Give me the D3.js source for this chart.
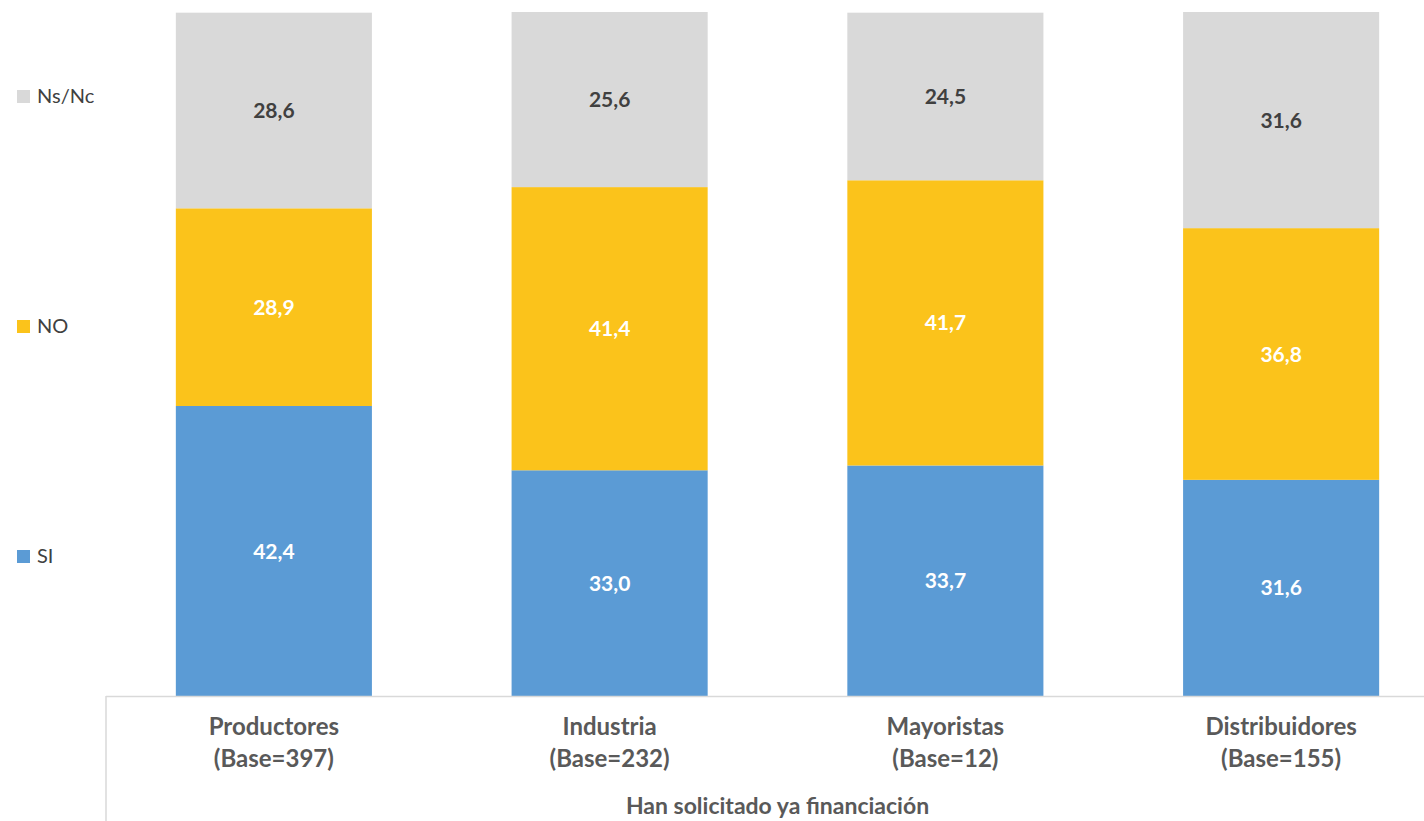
<!DOCTYPE html>
<html>
<head>
<meta charset="utf-8">
<script src="https://cdn.jsdelivr.net/npm/d3@7"></script>
<style>
  html, body { margin: 0; padding: 0; background: #fff; }
  svg { display: block; font-family: Lato, "Open Sans", sans-serif; }
</style>
</head>
<body>
<svg id="chart" width="1424" height="821"></svg>
<script>
const categories = ["Productores", "Industria", "Mayoristas", "Distribuidores"];
const bases = ["(Base=397)", "(Base=232)", "(Base=12)", "(Base=155)"];
const seriesNames = ["SI", "NO", "Ns/Nc"];
const siValues = [42.4, 33.0, 33.7, 31.6];
const noValues = [28.9, 41.4, 41.7, 36.8];
const nsncValues = [28.6, 25.6, 24.5, 31.6];
const colors = ["#5B9BD5", "#FBC31B", "#D9D9D9"];
const labelColors = ["#ffffff", "#ffffff", "#404040"];
const axisTitle = "Han solicitado ya financiación";

const svg = d3.select("#chart");
const W = 1424, H = 821;
const plotLeft = 106, plotRight = 1449, plotTop = 12, plotBottom = 696;

const x = d3.scaleBand().domain(categories).range([plotLeft, plotRight])
  .paddingInner(0.416).paddingOuter(0.208);
const y = d3.scaleLinear().domain([0, 100]).range([plotBottom, plotTop]);

const rows = categories.map((c, i) => ({ cat: c, SI: siValues[i], NO: noValues[i], "Ns/Nc": nsncValues[i] }));
const stacked = d3.stack().keys(seriesNames)(rows);

const g = svg.append("g");
stacked.forEach((s, si) => {
  g.selectAll(null).data(s).enter().append("rect")
    .attr("x", d => x(d.data.cat))
    .attr("width", x.bandwidth())
    .attr("y", d => y(d[1]))
    .attr("height", d => y(d[0]) - y(d[1]))
    .attr("fill", colors[si]);
  g.selectAll(null).data(s).enter().append("text")
    .attr("x", d => x(d.data.cat) + x.bandwidth() / 2)
    .attr("y", d => (y(d[0]) + y(d[1])) / 2)
    .attr("dy", "0.36em")
    .attr("text-anchor", "middle")
    .attr("font-size", 21)
    .attr("font-weight", "bold")
    .attr("fill", labelColors[si])
    .text(d => d3.format(".1f")(d[1] - d[0]).replace(".", ","));
});

// axis lines
svg.append("line").attr("x1", plotLeft).attr("x2", W).attr("y1", plotBottom + 0.5).attr("y2", plotBottom + 0.5)
  .attr("stroke", "#d9d9d9").attr("stroke-width", 1.5);
svg.append("line").attr("x1", plotLeft).attr("x2", plotLeft).attr("y1", plotBottom).attr("y2", H)
  .attr("stroke", "#d9d9d9").attr("stroke-width", 1.5);

// category labels
categories.forEach((c, i) => {
  const cx = x(c) + x.bandwidth() / 2;
  const t = svg.append("text").attr("text-anchor", "middle").attr("font-size", 24)
    .attr("font-weight", "bold").attr("fill", "#595959");
  t.append("tspan").attr("x", cx).attr("y", 735).text(c);
  t.append("tspan").attr("x", cx).attr("y", 767).text(bases[i]);
});

svg.append("text").attr("x", (plotLeft + plotRight) / 2).attr("y", 814)
  .attr("text-anchor", "middle").attr("font-size", 23).attr("font-weight", "bold")
  .attr("fill", "#595959").text(axisTitle);

// legend
const legendY = { "Ns/Nc": 96, "NO": 326, "SI": 556 };
seriesNames.forEach((n, i) => {
  const ly = legendY[n];
  svg.append("rect").attr("x", 17).attr("y", ly - 6).attr("width", 13).attr("height", 13).attr("fill", colors[i]);
  svg.append("text").attr("x", 37).attr("y", ly).attr("dy", "0.36em")
    .attr("font-size", 20).attr("fill", "#404040").text(n);
});
</script>
</body>
</html>
